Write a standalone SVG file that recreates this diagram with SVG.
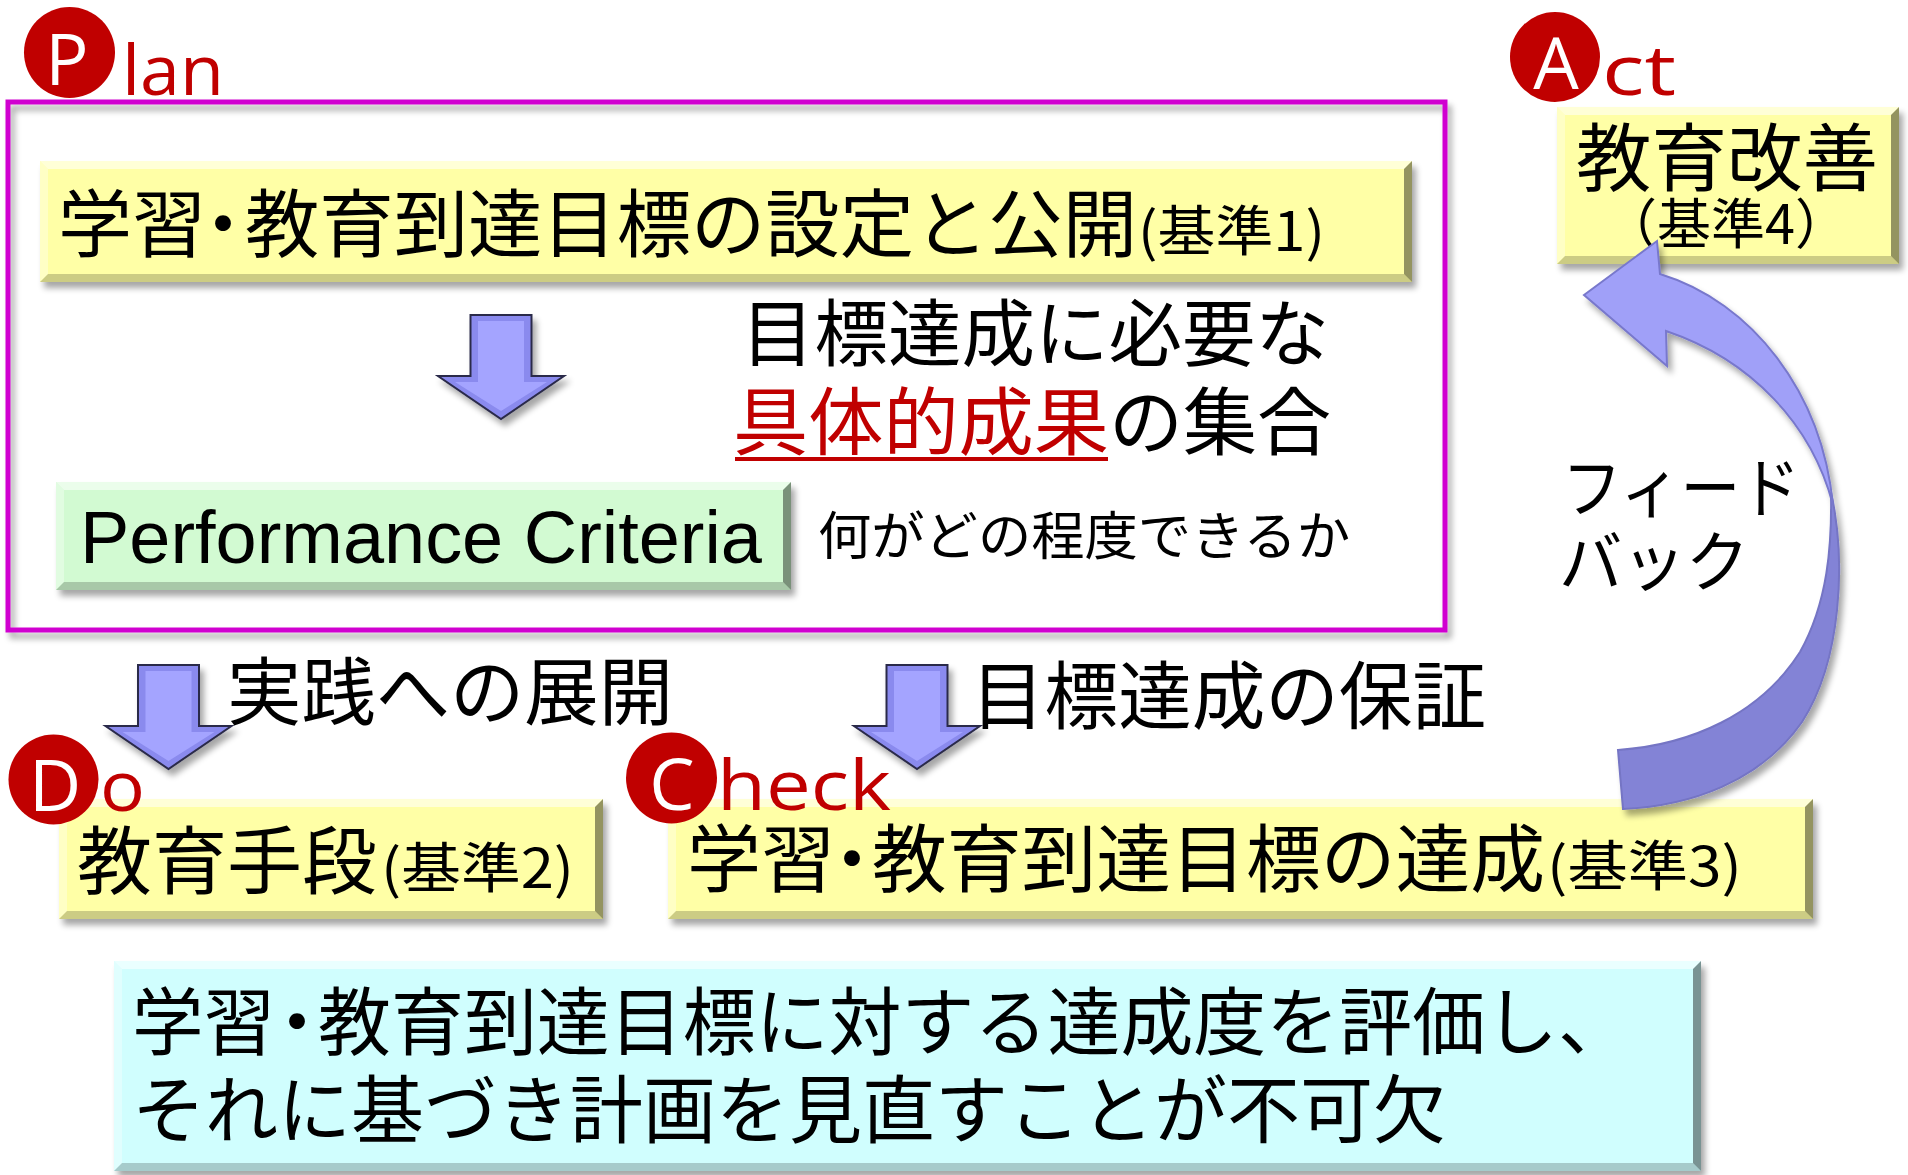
<svg xmlns="http://www.w3.org/2000/svg" width="1908" height="1175" viewBox="0 0 1908 1175">
<style>
.jp{font-family:"Noto Sans CJK JP","Noto Sans CJK SC",sans-serif;fill:#000}
.big{font-size:74px}
.sm{font-size:54px}
.lat{font-family:"Open Sans","Noto Sans",sans-serif}
.circ{fill:#C00000}
.cl{fill:#fff;font-size:72px;text-anchor:middle}
.red{fill:#C00000;font-size:70px}
.yel{fill:#FFFFA6}
.grn{fill:#D2FAD2}
.cyn{fill:#D0FEFE}
.bt{fill:#fff;opacity:.55}
.bl{fill:#fff;opacity:.35}
.br{fill:#000;opacity:.42}
.bb{fill:#000;opacity:.2}
.arw{fill:#8A8AEE;stroke:#2A2A4A;stroke-width:2}
.arwi{fill:#A4A4FF}
</style>
<defs>
<filter id="sh" x="-5%" y="-10%" width="115%" height="140%">
<feGaussianBlur in="SourceAlpha" stdDeviation="3"/>
<feOffset dx="4" dy="6" result="o"/>
<feComponentTransfer><feFuncA type="linear" slope="0.35"/></feComponentTransfer>
<feMerge><feMergeNode/><feMergeNode in="SourceGraphic"/></feMerge>
</filter>
<g id="darrow">
<path class="arw" d="M-30.5,0H30.5V61H63L0,104L-63,61H-30.5Z"/>
<path class="arwi" d="M-23,6H23V67H46L0,96L-46,67H-23Z"/>
</g>
</defs>
<rect width="1908" height="1175" fill="#fff"/>

<g id="plan-frame">
<rect x="8" y="102" width="1437" height="528" fill="none" stroke="#D000D0" stroke-width="5" filter="url(#sh)"/>
</g>

<g id="label-plan">
<circle class="circ" cx="69.5" cy="52.5" r="45.5"/>
<text class="lat cl" x="67" y="85" font-size="70">P</text>
<text class="lat red" x="122" y="95" textLength="102" lengthAdjust="spacingAndGlyphs">lan</text>
</g>

<g id="node-goals">
<rect class="yel" x="40" y="161" width="1372" height="121" filter="url(#sh)"/>
<polygon class="bt" points="40,161 1412,161 1404,169 48,169"/>
<polygon class="bl" points="40,161 48,169 48,274 40,282"/>
<polygon class="br" points="1412,161 1412,282 1404,274 1404,169"/>
<polygon class="bb" points="40,282 48,274 1404,274 1412,282"/>
<text class="jp big" y="251"><tspan x="58" textLength="148" lengthAdjust="spacingAndGlyphs">学習</tspan><tspan x="186">・</tspan><tspan x="245" textLength="892" lengthAdjust="spacingAndGlyphs">教育到達目標の設定と公開</tspan></text>
<text class="jp sm" x="1138" y="251" textLength="187" lengthAdjust="spacingAndGlyphs">(基準1)</text>
</g>

<g id="note-results">
<text class="jp" x="741" y="360" font-size="73" textLength="588" lengthAdjust="spacingAndGlyphs">目標達成に必要な</text>
<text class="jp" x="733" y="449" font-size="74" style="fill:#C00000" textLength="376" lengthAdjust="spacingAndGlyphs">具体的成果</text>
<line x1="735" y1="459" x2="1108" y2="459" stroke="#C00000" stroke-width="4"/>
<text class="jp" x="1109" y="449" font-size="74" textLength="222" lengthAdjust="spacingAndGlyphs">の集合</text>
</g>

<g id="node-pc">
<rect class="grn" x="56" y="482" width="735" height="108" filter="url(#sh)"/>
<polygon class="bt" points="56,482 791,482 783,490 64,490"/>
<polygon class="bl" points="56,482 64,490 64,582 56,590"/>
<polygon class="br" points="791,482 791,590 783,582 783,490"/>
<polygon class="bb" points="56,590 64,582 783,582 791,590"/>
<text x="80" y="563" font-family="'Liberation Sans',Arial,sans-serif" font-size="74" textLength="682" lengthAdjust="spacingAndGlyphs">Performance Criteria</text>
</g>

<g id="note-pc">
<text class="jp" x="818" y="555" font-size="52" textLength="532" lengthAdjust="spacingAndGlyphs">何がどの程度できるか</text>
</g>

<g id="label-act">
<circle class="circ" cx="1555" cy="57" r="45"/>
<text class="lat cl" x="1556" y="89" font-size="73">A</text>
<text class="lat red" x="1602" y="95" textLength="74" lengthAdjust="spacingAndGlyphs">ct</text>
</g>

<g id="node-act">
<rect class="yel" x="1557" y="107" width="342" height="157" filter="url(#sh)"/>
<polygon class="bt" points="1557,107 1899,107 1891,115 1565,115"/>
<polygon class="bl" points="1557,107 1565,115 1565,256 1557,264"/>
<polygon class="br" points="1899,107 1899,264 1891,256 1891,115"/>
<polygon class="bb" points="1557,264 1565,256 1891,256 1899,264"/>
<text class="jp big" x="1576" y="185" textLength="302" lengthAdjust="spacingAndGlyphs">教育改善</text>
<text class="jp" x="1603" y="244" font-size="54">（基準4）</text>
</g>

<g id="node-do">
<rect class="yel" x="59" y="799" width="544" height="120" filter="url(#sh)"/>
<polygon class="bt" points="59,799 603,799 595,807 67,807"/>
<polygon class="bl" points="59,799 67,807 67,911 59,919"/>
<polygon class="br" points="603,799 603,919 595,911 595,807"/>
<polygon class="bb" points="59,919 67,911 595,911 603,919"/>
<text class="jp big" x="77" y="888" textLength="300" lengthAdjust="spacingAndGlyphs">教育手段</text>
<text class="jp sm" x="381" y="888" textLength="193" lengthAdjust="spacingAndGlyphs">(基準2)</text>
</g>

<g id="label-do">
<circle class="circ" cx="53.5" cy="779.5" r="45"/>
<text class="lat cl" x="55" y="811" font-size="71">D</text>
<text class="lat red" x="100" y="811" textLength="45" lengthAdjust="spacingAndGlyphs">o</text>
</g>

<g id="node-check">
<rect class="yel" x="668" y="799" width="1145" height="120" filter="url(#sh)"/>
<polygon class="bt" points="668,799 1813,799 1805,807 676,807"/>
<polygon class="bl" points="668,799 676,807 676,911 668,919"/>
<polygon class="br" points="1813,799 1813,919 1805,911 1805,807"/>
<polygon class="bb" points="668,919 676,911 1805,911 1813,919"/>
<text class="jp big" y="886"><tspan x="687" textLength="148" lengthAdjust="spacingAndGlyphs">学習</tspan><tspan x="815">・</tspan><tspan x="872" textLength="673" lengthAdjust="spacingAndGlyphs">教育到達目標の達成</tspan></text>
<text class="jp sm" x="1547" y="886" textLength="195" lengthAdjust="spacingAndGlyphs">(基準3)</text>
</g>

<g id="label-check">
<circle class="circ" cx="671.5" cy="778" r="45.5"/>
<text class="lat cl" x="672" y="810" font-size="71">C</text>
<text class="lat red" x="717" y="810" textLength="174" lengthAdjust="spacingAndGlyphs">heck</text>
</g>

<g id="node-summary">
<rect class="cyn" x="114" y="961" width="1587" height="210" filter="url(#sh)"/>
<polygon class="bt" points="114,961 1701,961 1693,969 122,969"/>
<polygon class="bl" points="114,961 122,969 122,1163 114,1171"/>
<polygon class="br" points="1701,961 1701,1171 1693,1163 1693,969"/>
<polygon class="bb" points="114,1171 122,1163 1693,1163 1701,1171"/>
<text class="jp big" y="1049"><tspan x="132" textLength="143" lengthAdjust="spacingAndGlyphs">学習</tspan><tspan x="260">・</tspan><tspan x="318" textLength="1313" lengthAdjust="spacingAndGlyphs">教育到達目標に対する達成度を評価し、</tspan></text>
<text class="jp big" x="132" y="1137" textLength="1314" lengthAdjust="spacingAndGlyphs">それに基づき計画を見直すことが不可欠</text>
</g>

<g id="connectors">
<use href="#darrow" transform="translate(501,315)" filter="url(#sh)"/>
<use href="#darrow" transform="translate(168.5,665)" filter="url(#sh)"/>
<use href="#darrow" transform="translate(917,665)" filter="url(#sh)"/>
<text class="jp big" x="227" y="719" textLength="446" lengthAdjust="spacingAndGlyphs">実践への展開</text>
<text class="jp big" x="971" y="723" textLength="515" lengthAdjust="spacingAndGlyphs">目標達成の保証</text>
<g id="feedback" filter="url(#sh)">
<path d="M1831,492 C1846,560 1842,660 1802,722 C1760,782 1690,806 1623,809 L1618,750 C1690,745 1760,715 1800,652 C1828,602 1832,545 1831,492 Z" fill="#8383D6" stroke="#7474C4" stroke-width="2"/>
<path d="M1584,295 L1657,241 L1660,274 C1752,302 1822,392 1833,505 C1812,425 1752,360 1666,331 L1667,366 Z" fill="#A0A0F8" stroke="#7878CC" stroke-width="2"/>
</g>
<text class="jp" x="1562" y="512" font-size="66" textLength="238" lengthAdjust="spacingAndGlyphs">フィード</text>
<text class="jp" x="1559" y="586" font-size="66" textLength="190" lengthAdjust="spacingAndGlyphs">バック</text>
</g>
</svg>
